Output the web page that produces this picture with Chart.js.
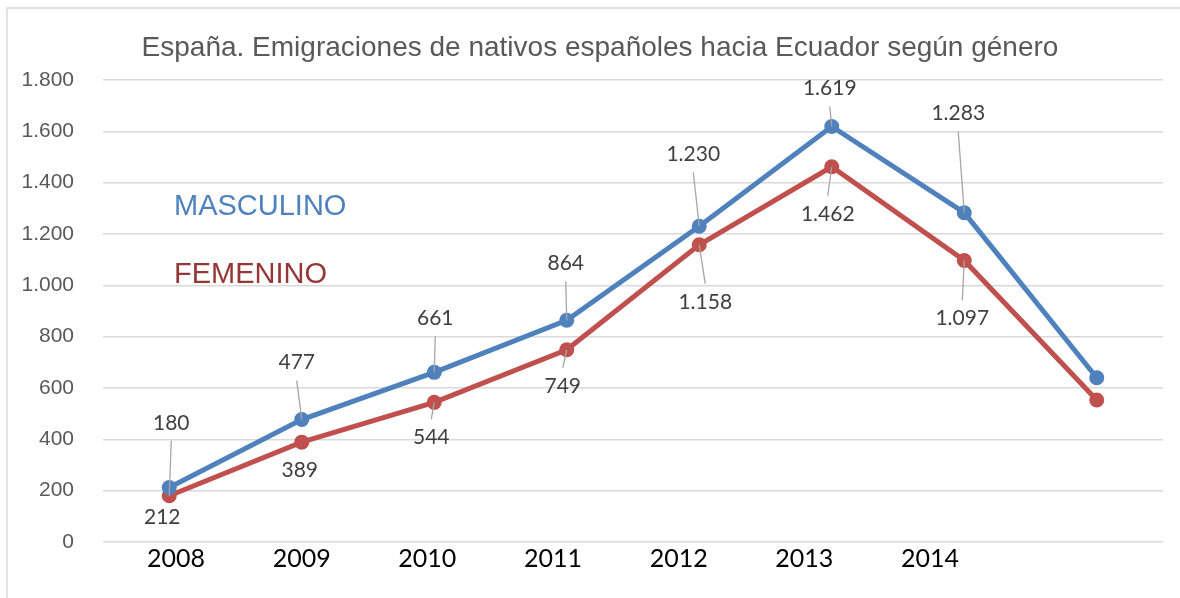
<!DOCTYPE html>
<html>
<head>
<meta charset="utf-8">
<script src="https://cdn.jsdelivr.net/npm/chart.js@4.4.1/dist/chart.umd.min.js"></script>
<style>
  html, body { margin: 0; padding: 0; background: #fff; }
  #wrap { width: 1180px; height: 598px; position: relative; }
</style>
</head>
<body>
<div id="wrap"><canvas id="emigChart"></canvas></div>
<script>
// data
const categories = ['2008', '2009', '2010', '2011', '2012', '2013', '2014', ''];
const yearLabels = ['2008', '2009', '2010', '2011', '2012', '2013', '2014'];
const masculino = [212, 477, 661, 864, 1230, 1619, 1283, 640];
const femenino = [180, 389, 544, 749, 1158, 1462, 1097, 553];
const yTicks = [0, 200, 400, 600, 800, 1000, 1200, 1400, 1600, 1800];

// where each data label sits relative to its point (px), null = no label
const mascLabelShift = [[-7, 30], [-5, -57], [1, -54], [-1, -57], [-6, -72], [-2, -38], [-6, -99], null];
const femLabelShift = [[2, -73], [-2, 28], [-3, 35], [-4, 36], [6, 57], [-4, 47], [-2, 58], null];

const blue = '#4f81bd';
const red = '#c0504d';

function fmt(v) {
    return String(v).replace(/\B(?=(\d{3})+(?!\d))/g, '.');
}

// title, series names, frame, data labels with leader lines
const decorPlugin = {
    id: 'decor',
    beforeDraw(chart) {
        const c = chart.ctx;
        c.save();
        c.strokeStyle = '#d9d9d9';
        c.lineWidth = 1.5;
        c.strokeRect(7, 8, 1200, 620);
        c.fillStyle = '#595959';
        c.font = '28px "Liberation Sans", Arial, sans-serif';
        c.textAlign = 'center';
        c.textBaseline = 'alphabetic';
        c.fillText('España. Emigraciones de nativos españoles hacia Ecuador según género', 600, 56);
        c.textAlign = 'left';
        c.font = '29px "Liberation Sans", Arial, sans-serif';
        c.fillStyle = blue;
        c.fillText('MASCULINO', 174, 215);
        c.fillStyle = '#953735';
        c.fillText('FEMENINO', 174, 283);
        c.restore();
    },
    afterDatasetsDraw(chart) {
        const c = chart.ctx;
        const shifts = [mascLabelShift, femLabelShift];
        c.save();
        c.font = '21px Lato, "Noto Sans", sans-serif';
        c.textAlign = 'center';
        c.textBaseline = 'middle';
        chart.data.datasets.forEach((ds, di) => {
            const meta = chart.getDatasetMeta(di);
            meta.data.forEach((pt, i) => {
                const s = shifts[di][i];
                if (!s) return;
                const lx = pt.x + s[0];
                const ly = pt.y + s[1];
                const gap = Math.abs(s[1]) - 18;
                if (gap > 12) {
                    const ey = ly - Math.sign(s[1]) * 18;
                    c.strokeStyle = '#a6a6a6';
                    c.lineWidth = 1.3;
                    c.beginPath();
                    c.moveTo(lx, ey);
                    c.lineTo(pt.x, pt.y);
                    c.stroke();
                }
                c.fillStyle = '#404040';
                c.fillText(fmt(ds.data[i]), lx, ly);
            });
        });
        c.restore();
    }
};

const ctx = document.getElementById('emigChart').getContext('2d');
const emigChart = new Chart(ctx, {
    type: 'line',
    data: {
        labels: categories,
        datasets: [{
            label: 'MASCULINO',
            data: masculino,
            borderColor: blue,
            backgroundColor: blue,
            borderWidth: 5,
            pointRadius: 7.5,
            pointBorderWidth: 0,
            tension: 0,
            xAxisID: 'x'
        }, {
            label: 'FEMENINO',
            data: femenino,
            borderColor: red,
            backgroundColor: red,
            borderWidth: 5,
            pointRadius: 7.5,
            pointBorderWidth: 0,
            tension: 0,
            xAxisID: 'x'
        }]
    },
    options: {
        responsive: true,
        maintainAspectRatio: false,
        animation: false,
        layout: { padding: { top: 80, right: 17, bottom: 0, left: 0 } },
        plugins: {
            legend: { display: false },
            title: { display: false },
            tooltip: { enabled: false }
        },
        scales: {
            x: {
                type: 'category',
                display: false,
                offset: true
            },
            // year labels sit on their own evenly spaced axis, as in the original
            yearAxis: {
                type: 'linear',
                position: 'bottom',
                min: -0.581,
                max: 7.854,
                afterBuildTicks(scale) {
                    scale.ticks = yearLabels.map((_, i) => ({ value: i }));
                },
                afterFit(scale) { scale.height = 56; },
                grid: { display: false, drawTicks: false },
                border: { display: false },
                ticks: {
                    autoSkip: false,
                    maxRotation: 0,
                    padding: 2,
                    color: '#000',
                    font: { family: 'Lato, "Noto Sans", sans-serif', size: 25 },
                    callback: (v) => yearLabels[v] || ''
                }
            },
            y: {
                min: 0,
                max: 1800,
                afterBuildTicks(scale) {
                    scale.ticks = yTicks.map(v => ({ value: v }));
                },
                afterFit(scale) { scale.width = 103; },
                grid: { color: '#d9d9d9', lineWidth: 1.5, drawTicks: false },
                border: { display: false },
                ticks: {
                    padding: 29,
                    color: '#595959',
                    font: { family: '"Liberation Sans", Arial, sans-serif', size: 21 },
                    callback: (v) => fmt(v)
                }
            }
        }
    },
    plugins: [decorPlugin]
});
</script>
</body>
</html>
